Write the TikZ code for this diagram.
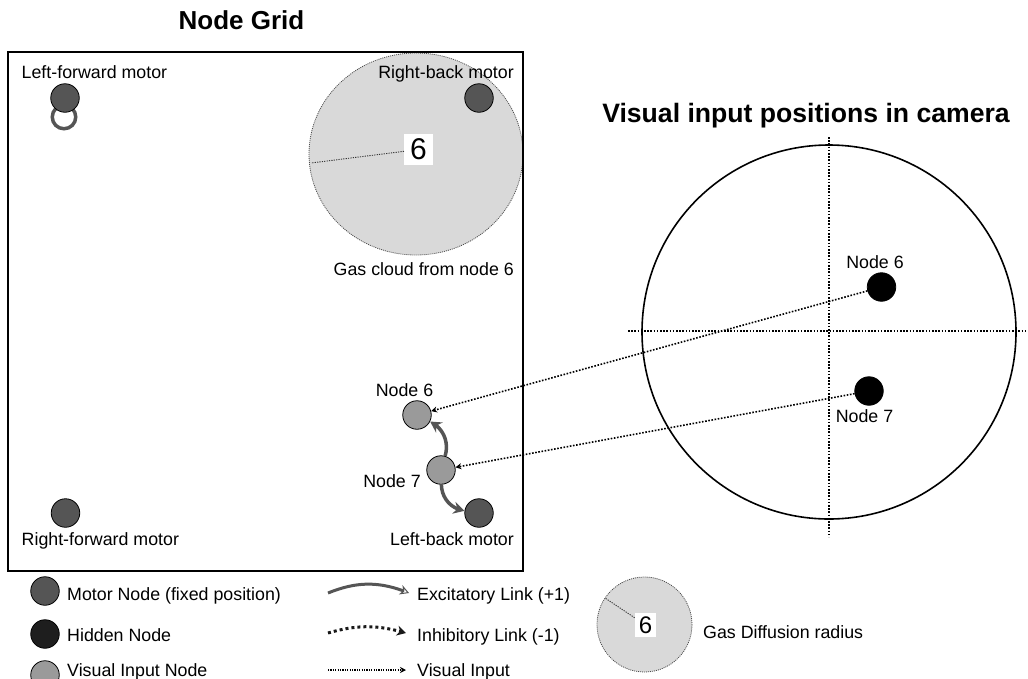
\documentclass[tikz,border=0pt]{standalone}
\usepackage{fontspec}
\setmainfont{Liberation Sans}
\usetikzlibrary{arrows.meta,bending}
\definecolor{motorgray}{HTML}{555555}
\definecolor{visgray}{HTML}{9A9A9A}
\definecolor{hiddengray}{HTML}{1E1E1E}
\definecolor{gasgray}{HTML}{D9D9D9}
\begin{document}
\begin{tikzpicture}[x=1pt,y=-1pt,
  lbl/.style={inner sep=0pt, font=\fontsize{17.8}{20}\selectfont},
  ttl/.style={inner sep=0pt, font=\fontsize{#1}{30}\selectfont\bfseries},
  nd/.style={circle, draw=black, line width=0.8pt, minimum size=28.5pt, inner sep=0pt},
  motor/.style={nd, fill=motorgray},
  vis/.style={nd, fill=visgray},
  hid/.style={nd, fill=hiddengray},
  cam/.style={nd, fill=black},
  excit/.style={draw=motorgray, line width=3.5pt, -{Stealth[length=11pt,width=12pt]}},
  excitlg/.style={draw=motorgray, line width=3pt, -{Stealth[open,length=9pt,width=10pt,line width=1pt]}},
  inhib/.style={draw=black!90, line width=3pt, dash pattern=on 3pt off 3pt, -{Stealth[length=9pt,width=10pt]}},
  visline/.style={line width=1.6pt, dash pattern=on 1.6pt off 1.6pt, -{Stealth[length=6pt,width=6pt]}},
  vislinelg/.style={line width=1.2pt, dash pattern=on 1.2pt off 1.2pt, -{Stealth[length=6pt,width=6pt]}},
  cross/.style={line width=1.6pt, dash pattern=on 1.6pt off 1.6pt},
  gas/.style={fill=gasgray, draw=black!70, line width=0.8pt, dash pattern=on 1pt off 1pt},
  radline/.style={draw=black!80, line width=0.9pt, dash pattern=on 1.2pt off 1.2pt},
  gaslbl/.style={fill=white, inner sep=0pt, minimum height=#1pt},
]
\useasboundingbox (0,0) rectangle (1028,678);

% titles
\node[ttl=26, anchor=base] (t1) at (241.5,29.5) {Node Grid};
\node[ttl=26.6, anchor=base] (t2) at (806,122.7) {Visual input positions in camera};

% gas cloud
\draw[gas] (416,154) ellipse [x radius=107, y radius=101];
\coordinate (cloudedge) at (311,163);
\node[gaslbl=31, inner xsep=6pt, font=\fontsize{30}{32}\selectfont] (g6) at (418.5,149.5) {6};
\draw[radline] (g6) -- (cloudedge);

% grid box
\draw[line width=1.8pt] (8,52) rectangle (523,571);

% self loop ring
\draw[draw=motorgray, line width=3.5pt] (64,117) circle (11.75);

% grid nodes
\node[motor] (lf) at (65,98) {};
\node[motor] (rb) at (479,98) {};
\node[motor] (rf) at (65.5,513) {};
\node[motor] (lb) at (479,513) {};
\node[vis] (n6) at (417,415) {};
\node[vis] (n7) at (441,470) {};

\node[lbl, anchor=base west] (llf) at (21.5,78) {Left-forward motor};
\node[lbl, anchor=base east] (lrb) at (514,78) {Right-back motor};
\node[lbl, anchor=base east] (lgas) at (514,275) {Gas cloud from node 6};
\node[lbl, anchor=base] (ln6) at (404.5,396) {Node 6};
\node[lbl, anchor=base] (ln7) at (392,487) {Node 7};
\node[lbl, anchor=base west] (lrf) at (21.5,545) {Right-forward motor};
\node[lbl, anchor=base east] (llb) at (514,545) {Left-back motor};

\draw[excit] (n7) to[bend right=40] (n6);
\draw[excit] (n7) to[bend right=40] (lb);

% camera
\node[circle, draw, line width=1.6pt, minimum size=374pt, inner sep=0pt] (camera) at (829,332) {};
\coordinate (hl) at (628,331);
\coordinate (hr) at (1032,331);
\coordinate (vt) at (829,137);
\coordinate (vb) at (829,537);
\draw[cross] (hl) -- (hr);
\draw[cross] (vt) -- (vb);
\node[cam] (c6) at (881.5,287) {};
\node[cam] (c7) at (869,391) {};
\node[lbl, anchor=base] (lc6) at (875,268) {Node 6};
\node[lbl, anchor=base] (lc7) at (864.5,422) {Node 7};

\draw[visline] (c6) -- (n6);
\draw[visline] (c7) -- (n7);

% legend
\node[motor] (lgm) at (45,591) {};
\node[hid] (lgh) at (45,634) {};
\node[vis] (lgv) at (45,675) {};
\node[lbl, anchor=base west] (lgmt) at (67,600) {Motor Node (fixed position)};
\node[lbl, anchor=base west] (lght) at (67,641) {Hidden Node};
\node[lbl, anchor=base west] (lgvt) at (67,676) {Visual Input Node};

\coordinate (ea) at (328,593);
\coordinate (eb) at (409,593);
\coordinate (ia) at (328,633);
\coordinate (ib) at (406,633);
\coordinate (va) at (328,670);
\coordinate (vb2) at (406,670);
\draw[excitlg] (ea) to[bend left=22] (eb);
\draw[inhib] (ia) to[bend left=16] (ib);
\draw[vislinelg] (va) -- (vb2);
\node[lbl, anchor=base west] (let) at (417,600) {Excitatory Link (+1)};
\node[lbl, anchor=base west] (lit) at (417,641) {Inhibitory Link (-1)};
\node[lbl, anchor=base west] (lvt) at (417,676) {Visual Input};

\draw[gas] (644.5,624.5) circle (47.5);
\coordinate (lgedge) at (605,598);
\node[gaslbl=24, inner xsep=4pt, font=\fontsize{24}{26}\selectfont] (lg6) at (645.5,625) {6};
\draw[radline] (lg6) -- (lgedge);
\node[lbl, anchor=base west] (lgt) at (703,638) {Gas Diffusion radius};
\end{tikzpicture}
\end{document}
